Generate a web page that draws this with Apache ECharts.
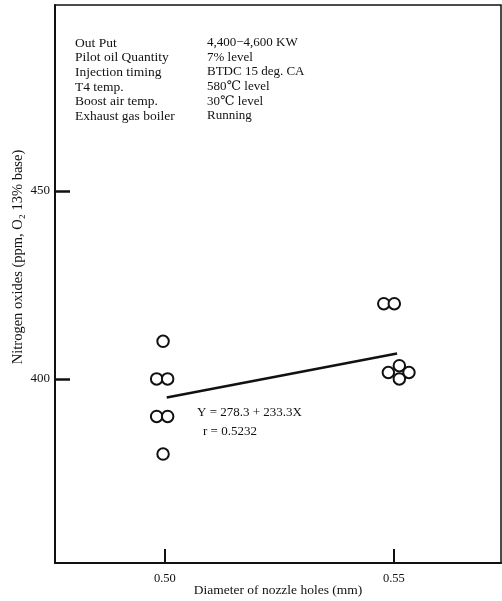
<!DOCTYPE html>
<html>
<head>
<meta charset="utf-8">
<script src="https://cdn.jsdelivr.net/npm/echarts@6/dist/echarts.min.js"></script>
<style>
  html, body { margin: 0; padding: 0; background: #fff; }
  #chart { width: 502px; height: 601px; }
</style>
</head>
<body>
<div id="chart"></div>
<script>
// Measured NOx at two nozzle hole diameters (points nudged sideways where they overlap)
const diameterMm = [0.4996, 0.4982, 0.5006, 0.4982, 0.5006, 0.4996,
                    0.5478, 0.5501, 0.5512, 0.5488, 0.5533, 0.5512];
const noxPpm     = [410, 400, 400, 390, 390, 380,
                    420, 420, 403.5, 401.7, 401.7, 400];

// Regression fit Y = a + bX and its correlation
const fitIntercept = 278.3;
const fitSlope = 233.3;
const fitR = 0.5232;
const fitRange = [0.5004, 0.5507];

// Axis ticks
const xTicks = [0.50, 0.55];
const yTicks = [400, 450];

// Test conditions listed in the upper-left corner
const conditionLabels = ['Out Put', 'Pilot oil Quantity', 'Injection timing',
                         'T4 temp.', 'Boost air temp.', 'Exhaust gas boiler'];
const conditionValues = ['4,400\u22124,600 KW', '7% level', 'BTDC 15 deg. CA',
                         '580\u2103 level', '30\u2103 level', 'Running'];

const serif = "'Liberation Serif', 'DejaVu Serif', 'Times New Roman', serif";

const points = diameterMm.map((x, i) => [x, noxPpm[i]]);
const fitLine = fitRange.map(x => [x, fitIntercept + fitSlope * x]);

const graphics = [];
conditionLabels.forEach((t, i) => {
  graphics.push({
    type: 'text', left: 75, top: 36 + i * 14.7,
    style: { text: t, font: '13.5px ' + serif, fill: '#111' }
  });
  graphics.push({
    type: 'text', left: 207, top: 36 + i * 14.7,
    style: { text: conditionValues[i], font: '13px ' + serif, fill: '#111' }
  });
});
graphics.push({
  type: 'text', left: 197, top: 406,
  style: { text: 'Y = ' + fitIntercept + ' + ' + fitSlope + 'X', font: '13px ' + serif, fill: '#111' }
});
graphics.push({
  type: 'text', left: 203, top: 425,
  style: { text: 'r = ' + fitR, font: '13px ' + serif, fill: '#111' }
});

const chart = echarts.init(document.getElementById('chart'), null, { renderer: 'canvas' });
chart.setOption({
  animation: false,
  backgroundColor: '#fff',
  grid: {
    left: 55, right: 1, top: 5, bottom: 38,
    containLabel: false, outerBoundsMode: 'none',
    show: true, borderColor: '#111', borderWidth: 1.5, backgroundColor: 'transparent'
  },
  xAxis: {
    type: 'value', min: 0.476, max: 0.5734,
    name: 'Diameter of nozzle holes (mm)', nameLocation: 'middle', nameGap: 20, nameMoveOverlap: false,
    nameTextStyle: { fontFamily: serif, fontSize: 13.5, color: '#111' },
    axisLine: { show: true, onZero: false, lineStyle: { color: '#111', width: 2 } },
    axisTick: { show: true, inside: true, length: 14, customValues: xTicks, lineStyle: { color: '#111', width: 2 } },
    axisLabel: { customValues: xTicks, formatter: v => v.toFixed(2), fontFamily: serif, fontSize: 12.5, color: '#111', margin: 9 },
    splitLine: { show: false }
  },
  yAxis: {
    type: 'value', min: 351, max: 499.5,
    name: 'Nitrogen oxides (ppm, O\u2082 13% base)', nameLocation: 'middle', nameGap: 29, nameRotate: 90, nameMoveOverlap: false,
    nameTextStyle: { fontFamily: serif, fontSize: 14.5, color: '#111', padding: [0, 0, 0, 54] },
    axisLine: { show: true, onZero: false, lineStyle: { color: '#111', width: 2 } },
    axisTick: { show: true, inside: true, length: 15, customValues: yTicks, lineStyle: { color: '#111', width: 2.5 } },
    axisLabel: { customValues: yTicks, fontFamily: serif, fontSize: 13, color: '#111', margin: 5 },
    splitLine: { show: false }
  },
  graphic: graphics,
  series: [
    {
      type: 'line', data: fitLine, symbol: 'none', silent: true,
      lineStyle: { color: '#111', width: 2.5 }, z: 2
    },
    {
      type: 'scatter', data: points, symbol: 'circle', symbolSize: 11.5,
      itemStyle: { color: '#fff', borderColor: '#111', borderWidth: 2, opacity: 1 }, z: 3
    }
  ]
});
</script>
</body>
</html>
